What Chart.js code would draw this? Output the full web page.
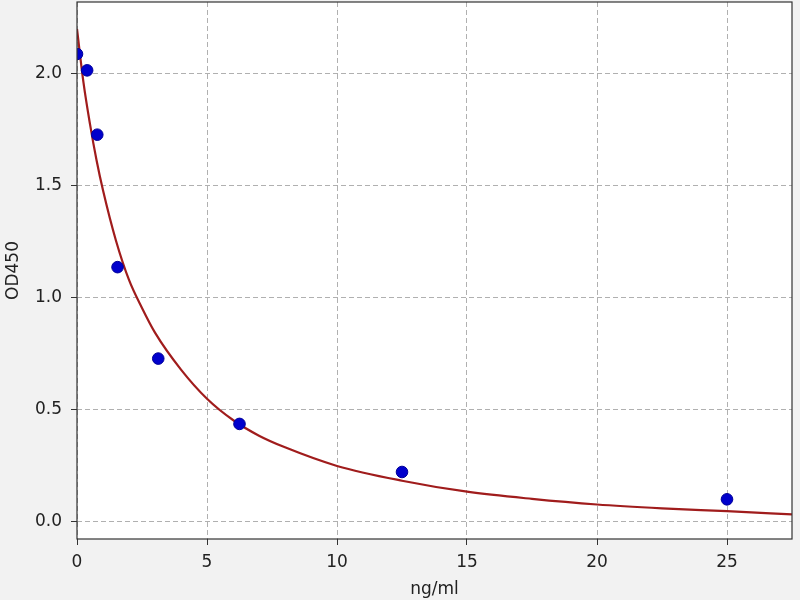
<!DOCTYPE html>
<html>
<head>
<meta charset="utf-8">
<script src="https://cdn.jsdelivr.net/npm/chart.js@4/dist/chart.umd.min.js"></script>
<style>
  html, body { margin: 0; padding: 0; background: #f2f2f2; }
  #wrap { width: 800px; height: 600px; }
</style>
</head>
<body>
<div id="wrap"><canvas id="myChart" width="800" height="600"></canvas></div>
<script>
// standard points (ng/ml -> OD450)
const concentrations = [0, 0.39, 0.78, 1.56, 3.125, 6.25, 12.5, 25];
const odValues = [2.088, 2.015, 1.728, 1.137, 0.729, 0.4375, 0.223, 0.101];

// fitted curve
const curveX = [0, 0.25, 0.5, 0.75, 1, 1.5, 2, 2.5, 3, 4, 5, 6, 7, 8, 10, 12.5, 15, 17.5, 20, 22.5, 25, 27.5];
const curveY = [2.2, 1.96, 1.775, 1.615, 1.48, 1.255, 1.08, 0.955, 0.845, 0.68, 0.55, 0.455, 0.385, 0.333, 0.25, 0.184, 0.135, 0.103, 0.078, 0.061, 0.048, 0.034];

const xTicks = [0, 5, 10, 15, 20, 25];
const yTicks = [0, 0.5, 1.0, 1.5, 2.0];

const toPoints = (xs, ys) => xs.map((x, i) => ({ x, y: ys[i] }));

const frame = {
    id: 'frame',
    beforeDraw(chart) {
        const { ctx, chartArea: a } = chart;
        ctx.save();
        ctx.fillStyle = '#f2f2f2';
        ctx.fillRect(0, 0, chart.width, chart.height);
        ctx.fillStyle = '#ffffff';
        ctx.fillRect(a.left, a.top, a.right - a.left, a.bottom - a.top);
        ctx.restore();
    },
    afterDatasetsDraw(chart) {
        const { ctx, chartArea: a } = chart;
        ctx.save();
        ctx.setLineDash([]);
        ctx.strokeStyle = '#333333';
        ctx.lineWidth = 1.2;
        ctx.strokeRect(a.left, a.top, a.right - a.left, a.bottom - a.top);
        ctx.restore();
    }
};

const font = { family: 'DejaVu Sans', size: 17 };

const ctx = document.getElementById('myChart').getContext('2d');
new Chart(ctx, {
    type: 'scatter',
    data: {
        datasets: [
            {
                data: toPoints(concentrations, odValues),
                backgroundColor: '#0000cc',
                borderColor: '#00009a',
                borderWidth: 1,
                pointRadius: 5.8,
                order: 0,
                clip: 0
            },
            {
                type: 'line',
                data: toPoints(curveX, curveY),
                borderColor: '#a01c1c',
                borderWidth: 2.2,
                pointRadius: 0,
                fill: false,
                cubicInterpolationMode: 'monotone',
                order: 1,
                clip: 0
            }
        ]
    },
    options: {
        responsive: false,
        animation: false,
        devicePixelRatio: 1,
        layout: { autoPadding: false, padding: { top: 2, right: 8, left: 0, bottom: 0 } },
        plugins: {
            legend: { display: false },
            tooltip: { enabled: false }
        },
        scales: {
            x: {
                type: 'linear',
                min: 0,
                max: 27.5,
                afterBuildTicks: s => { s.ticks = xTicks.map(v => ({ value: v })); },
                afterFit: s => { s.height = 61; s.paddingLeft = 0; s.paddingRight = 0; },
                ticks: { font, color: '#222', padding: 7, maxRotation: 0, callback: v => String(v) },
                grid: { color: '#b0b0b0', tickColor: '#333', tickLength: 6, tickBorderDash: [] },
                border: { display: false, dash: [5, 3] },
                title: { display: true, text: 'ng/ml', font, color: '#222', padding: { top: 0, bottom: 0 } }
            },
            y: {
                type: 'linear',
                min: -0.076,
                max: 2.32,
                afterBuildTicks: s => { s.ticks = yTicks.map(v => ({ value: v })); },
                afterFit: s => { s.width = 77; s.paddingTop = 0; s.paddingBottom = 0; },
                ticks: { font, color: '#222', padding: 9, callback: v => v.toFixed(1) },
                grid: { color: '#b0b0b0', tickColor: '#333', tickLength: 6, tickBorderDash: [] },
                border: { display: false, dash: [5, 3] },
                title: { display: true, text: 'OD450', font, color: '#222', padding: { top: 3.5, bottom: 0 } }
            }
        }
    },
    plugins: [frame]
});
</script>
</body>
</html>
